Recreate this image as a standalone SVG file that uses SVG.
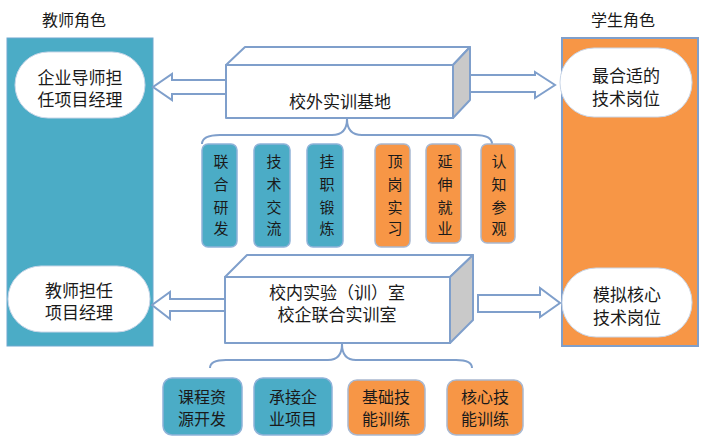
<svg xmlns="http://www.w3.org/2000/svg" width="705" height="445" viewBox="0 0 705 445">
<style>
text{font-family:"Liberation Sans","Noto Sans CJK SC",sans-serif;fill:#1a1a1a;text-anchor:middle}
.t17{font-size:17px}
.t16{font-size:16px}
.t15{font-size:15px}
.blue{fill:#4BACC6;stroke:#8FB3D9;stroke-width:1.5}
.orange{fill:#F79646;stroke:#A9B8D0;stroke-width:1.5}
.pill{fill:#ffffff;stroke:#C9D6E8;stroke-width:1}
.box{fill:#ffffff;stroke:#7F9FCB;stroke-width:2;stroke-linejoin:round}
.side{fill:#C9C9C9;stroke:#7F9FCB;stroke-width:2;stroke-linejoin:round}
.arrow{fill:#ffffff;stroke:#7F9FCB;stroke-width:2;stroke-linejoin:miter}
.brace{fill:none;stroke:#7F9FCB;stroke-width:2}
</style>
<rect width="705" height="445" fill="#ffffff"/>
<g id="teacher-role">
<text class="t16" x="74" y="26">教师角色</text>
<rect x="7" y="38" width="146" height="308" fill="#4BACC6" stroke="#6FA8CF" stroke-width="1"/>
</g>
<g id="student-role">
<text class="t16" x="623" y="26">学生角色</text>
<rect x="562" y="38" width="136" height="308" fill="#F79646" stroke="#7F9FCB" stroke-width="2"/>
</g>
<g id="pill-teacher-enterprise">
<rect class="pill" x="15" y="52" width="130" height="66" rx="33"/>
<text class="t17" x="80" y="84">企业导师担</text>
<text class="t17" x="80" y="106">任项目经理</text>
</g>
<g id="pill-teacher-pm">
<rect class="pill" x="8" y="266" width="142" height="66" rx="33"/>
<text class="t17" x="79" y="297">教师担任</text>
<text class="t17" x="79" y="319">项目经理</text>
</g>
<g id="pill-student-best">
<rect class="pill" x="560" y="48" width="132" height="69" rx="34"/>
<text class="t17" x="626" y="82">最合适的</text>
<text class="t17" x="626" y="105">技术岗位</text>
</g>
<g id="pill-student-sim">
<rect class="pill" x="562" y="268" width="130" height="69" rx="34"/>
<text class="t17" x="627" y="301">模拟核心</text>
<text class="t17" x="627" y="324">技术岗位</text>
</g>
<g id="connectors">
<path class="arrow" d="M226 80 L172 80 L172 74 L153 87 L172 100 L172 94 L226 94 Z"/>
<path class="arrow" d="M470 75 L535 75 L535 72 L555 85 L535 98 L535 92 L470 92 Z"/>
<path class="arrow" d="M225 299 L170 299 L170 292 L152 305 L170 319 L170 311 L225 311 Z"/>
<path class="arrow" d="M478 295 L540 295 L540 288 L560 303 L540 317 L540 312 L478 312 Z"/>
<path class="brace" d="M202 144 Q202 135 220 135 L332 135 Q347 135 347 119 Q347 135 362 135 L475 135 Q492 135 492 144"/>
<path class="brace" d="M210 368 Q210 360 226 360 L328 360 Q342 360 342 344 Q342 360 356 360 L456 360 Q472 360 472 368"/>
</g>
<g id="box-offcampus">
<path class="box" d="M226 65 L245 47 L470 47 L453 65 Z"/>
<path class="side" d="M453 65 L470 47 L470 100 L453 118 Z"/>
<rect class="box" x="226" y="65" width="227" height="53"/>
<text class="t17" x="340" y="108">校外实训基地</text>
</g>
<g id="box-oncampus">
<path class="box" d="M225 277 L247 255 L473 255 L450 277 Z"/>
<path class="side" d="M450 277 L473 255 L473 320 L450 343 Z"/>
<rect class="box" x="225" y="277" width="225" height="66"/>
<text class="t17" x="337" y="299">校内实验（训）室</text>
<text class="t17" x="337" y="321">校企联合实训室</text>
</g>
<g id="v1"><rect class="blue" x="202" y="144" width="35" height="103" rx="6"/>
<text class="t15"><tspan x="221" y="167">联</tspan><tspan x="221" y="190">合</tspan><tspan x="221" y="213">研</tspan><tspan x="221" y="234">发</tspan></text></g>
<g id="v2"><rect class="blue" x="254" y="144" width="36" height="103" rx="6"/>
<text class="t15"><tspan x="274" y="167">技</tspan><tspan x="274" y="190">术</tspan><tspan x="274" y="213">交</tspan><tspan x="274" y="234">流</tspan></text></g>
<g id="v3"><rect class="blue" x="307" y="144" width="36" height="103" rx="6"/>
<text class="t15"><tspan x="327" y="167">挂</tspan><tspan x="327" y="190">职</tspan><tspan x="327" y="213">锻</tspan><tspan x="327" y="234">炼</tspan></text></g>
<g id="v4"><rect class="orange" x="375" y="144" width="35" height="103" rx="6"/>
<text class="t15"><tspan x="395" y="167">顶</tspan><tspan x="395" y="190">岗</tspan><tspan x="395" y="213">实</tspan><tspan x="395" y="234">习</tspan></text></g>
<g id="v5"><rect class="orange" x="426" y="144" width="35" height="99" rx="6"/>
<text class="t15"><tspan x="445" y="167">延</tspan><tspan x="445" y="190">伸</tspan><tspan x="445" y="213">就</tspan><tspan x="445" y="234">业</tspan></text></g>
<g id="v6"><rect class="orange" x="481" y="144" width="34" height="99" rx="6"/>
<text class="t15"><tspan x="499" y="167">认</tspan><tspan x="499" y="190">知</tspan><tspan x="499" y="213">参</tspan><tspan x="499" y="234">观</tspan></text></g>
<g id="b1"><rect class="blue" x="163" y="378" width="79" height="57" rx="9"/>
<text class="t16" x="202" y="403">课程资</text><text class="t16" x="202" y="425">源开发</text></g>
<g id="b2"><rect class="blue" x="254" y="378" width="78" height="57" rx="9"/>
<text class="t16" x="293" y="403">承接企</text><text class="t16" x="293" y="425">业项目</text></g>
<g id="b3"><rect class="orange" x="348" y="380" width="77" height="55" rx="9"/>
<text class="t16" x="386" y="403">基础技</text><text class="t16" x="386" y="425">能训练</text></g>
<g id="b4"><rect class="orange" x="447" y="380" width="76" height="55" rx="9"/>
<text class="t16" x="485" y="403">核心技</text><text class="t16" x="485" y="425">能训练</text></g>
</svg>
